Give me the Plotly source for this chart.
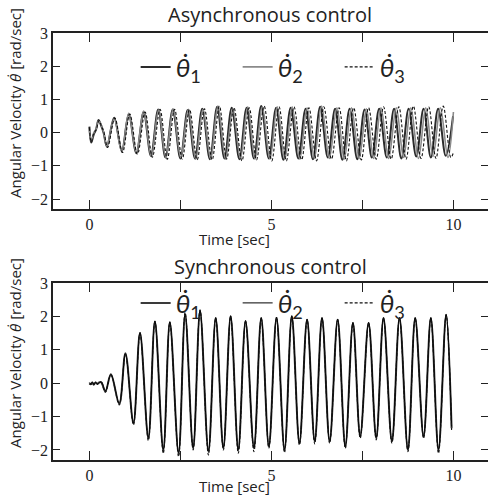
import plotly.graph_objects as go

# ---------------- data (extrema) ----------------
# Asynchronous control
async_t1 = [0.00, 0.05, 0.12, 0.18, 0.25, 0.32, 0.39, 0.48, 0.68, 0.89, 1.08, 1.29, 1.49, 1.69, 1.89,
            2.09, 2.29, 2.50, 2.70, 2.90, 3.10, 3.31, 3.51, 3.71, 3.91, 4.12, 4.32, 4.52, 4.72, 4.93,
            5.13, 5.33, 5.53, 5.74, 5.94, 6.14, 6.34, 6.55, 6.75, 6.95, 7.15, 7.36, 7.56, 7.76, 7.96,
            8.17, 8.37, 8.57, 8.77, 8.98, 9.18, 9.38, 9.58, 9.79, 9.99]
async_v1 = [0.18, -0.30, -0.05, 0.08, 0.38, 0.22, 0.00, -0.42, 0.45, -0.55, 0.55, -0.62, 0.62, -0.70, 0.70,
            -0.75, 0.70, -0.78, 0.68, -0.78, 0.72, -0.80, 0.78, -0.78, 0.75, -0.80, 0.75, -0.78, 0.80, -0.78,
            0.75, -0.82, 0.75, -0.78, 0.72, -0.80, 0.78, -0.75, 0.72, -0.82, 0.72, -0.80, 0.70, -0.75, 0.72,
            -0.75, 0.72, -0.78, 0.72, -0.72, 0.72, -0.75, 0.72, -0.70, 0.50]
async_t2 = [0.00, 0.05, 0.12, 0.18, 0.25, 0.32, 0.39, 0.48, 0.68, 0.89, 1.08, 1.29, 1.49, 1.70, 1.90,
            2.10, 2.30, 2.51, 2.72, 2.92, 3.12, 3.33, 3.53, 3.74, 3.94, 4.15, 4.35, 4.55, 4.75, 4.96,
            5.16, 5.37, 5.57, 5.78, 5.98, 6.18, 6.38, 6.59, 6.80, 7.00, 7.20, 7.41, 7.61, 7.81, 8.01,
            8.22, 8.43, 8.63, 8.83, 9.04, 9.24, 9.44, 9.64, 9.85, 10.00]
async_v2 = [0.10, -0.25, 0.00, 0.10, 0.35, 0.25, 0.02, -0.40, 0.42, -0.58, 0.58, -0.60, 0.65, -0.72, 0.68,
            -0.75, 0.72, -0.75, 0.70, -0.80, 0.70, -0.78, 0.80, -0.80, 0.72, -0.78, 0.78, -0.80, 0.78, -0.80,
            0.78, -0.80, 0.78, -0.80, 0.75, -0.78, 0.80, -0.78, 0.75, -0.80, 0.75, -0.78, 0.72, -0.78, 0.75,
            -0.78, 0.75, -0.75, 0.75, -0.78, 0.75, -0.72, 0.75, -0.75, 0.62]
async_t3 = [0.00, 0.05, 0.12, 0.19, 0.26, 0.33, 0.40, 0.50, 0.70, 0.91, 1.11, 1.32, 1.53, 1.73, 1.94,
            2.14, 2.34, 2.55, 2.75, 2.96, 3.16, 3.37, 3.57, 3.77, 3.97, 4.19, 4.39, 4.59, 4.80, 5.01,
            5.21, 5.41, 5.62, 5.83, 6.03, 6.24, 6.44, 6.65, 6.86, 7.06, 7.26, 7.47, 7.67, 7.88, 8.08,
            8.29, 8.50, 8.70, 8.90, 9.11, 9.32, 9.52, 9.72, 9.93, 10.00]
async_v3 = [0.15, -0.28, -0.02, 0.10, 0.36, 0.20, 0.00, -0.45, 0.44, -0.60, 0.56, -0.65, 0.62, -0.74, 0.70,
            -0.80, 0.70, -0.80, 0.70, -0.82, 0.72, -0.82, 0.80, -0.80, 0.75, -0.85, 0.75, -0.82, 0.80, -0.85,
            0.78, -0.85, 0.78, -0.82, 0.75, -0.85, 0.78, -0.80, 0.75, -0.85, 0.75, -0.82, 0.75, -0.80, 0.78,
            -0.80, 0.78, -0.80, 0.80, -0.78, 0.78, -0.78, 0.80, -0.75, -0.60]

# Synchronous control
sync_t = [0.00, 0.04, 0.08, 0.12, 0.17, 0.22, 0.28, 0.33, 0.44, 0.59, 0.82, 0.99, 1.21, 1.39, 1.62,
          1.80, 2.03, 2.21, 2.45, 2.63, 2.85, 3.04, 3.27, 3.47, 3.68, 3.88, 4.09, 4.29, 4.52, 4.72,
          4.93, 5.14, 5.36, 5.56, 5.77, 5.98, 6.19, 6.39, 6.60, 6.82, 7.03, 7.24, 7.44, 7.67, 7.88,
          8.08, 8.31, 8.52, 8.75, 8.95, 9.18, 9.38, 9.59, 9.80, 9.95]
sync_v1 = [0.00, -0.03, 0.02, -0.04, 0.02, -0.02, 0.03, 0.02, -0.25, 0.27, -0.62, 0.90, -1.20, 1.50, -1.65,
           1.85, -2.00, 1.82, -2.10, 2.05, -1.95, 2.15, -2.05, 1.95, -1.95, 2.00, -2.00, 1.85, -1.95, 1.95,
           -1.90, 1.95, -2.00, 2.00, -1.80, 1.90, -1.75, 1.95, -1.75, 1.90, -1.90, 1.80, -1.60, 1.80, -1.65,
           1.95, -1.75, 1.95, -2.00, 1.95, -1.60, 1.95, -2.00, 2.05, -1.35]
sync_v2 = [0.02, -0.02, 0.03, -0.02, 0.03, -0.03, 0.02, 0.04, -0.23, 0.26, -0.60, 0.88, -1.18, 1.52, -1.62,
           1.86, -1.98, 1.84, -2.08, 2.08, -1.92, 2.18, -2.02, 1.96, -1.92, 2.02, -1.98, 1.88, -1.92, 1.96,
           -1.88, 1.98, -1.98, 2.02, -1.78, 1.92, -1.72, 1.96, -1.72, 1.92, -1.88, 1.82, -1.58, 1.82, -1.62,
           1.96, -1.72, 1.96, -1.98, 1.96, -1.58, 1.96, -1.98, 2.06, -1.30]
sync_v3 = [-0.02, -0.04, 0.01, -0.05, 0.01, -0.03, 0.02, 0.01, -0.27, 0.25, -0.65, 0.88, -1.25, 1.48, -1.72,
           1.83, -2.10, 1.80, -2.20, 2.12, -2.00, 2.20, -2.15, 1.93, -2.00, 1.98, -2.10, 1.83, -2.05, 1.93,
           -1.95, 1.93, -2.08, 1.98, -1.85, 1.88, -1.82, 1.93, -1.80, 1.88, -1.95, 1.78, -1.65, 1.78, -1.70,
           1.93, -1.80, 1.93, -2.05, 1.93, -1.65, 1.93, -2.10, 2.03, -1.40]

titles = ["Asynchronous control", "Synchronous control"]
legend_names = ["<i>θ̇</i><sub>1</sub>", "<i>θ̇</i><sub>2</sub>", "<i>θ̇</i><sub>3</sub>"]
x_tickvals = [0, 2.5, 5, 7.5, 10]
x_ticktext = ["0", "", "5", "", "10"]
y_tickvals = [-2, -1, 0, 1, 2, 3]

# ---------------- figure ----------------
fig = go.Figure()

top_styles = [dict(color="#2b2b2b", width=2.0),
              dict(color="#8a8a8a", width=1.6),
              dict(color="#111111", width=1.1, dash="3px,2px")]
bot_styles = [dict(color="#3a3a3a", width=2.0),
              dict(color="#000000", width=1.0),
              dict(color="#111111", width=1.1, dash="3px,2px")]

top_data = [(async_t1, async_v1), (async_t2, async_v2), (async_t3, async_v3)]
bot_data = [(sync_t, sync_v1), (sync_t, sync_v2), (sync_t, sync_v3)]

for (t, v), st, name in zip(top_data, top_styles, legend_names):
    fig.add_trace(go.Scatter(x=t, y=v, mode="lines", name=name,
                             line=dict(shape="spline", smoothing=1.0, **st),
                             xaxis="x", yaxis="y", legend="legend"))
for (t, v), st, name in zip(bot_data, bot_styles, legend_names):
    fig.add_trace(go.Scatter(x=t, y=v, mode="lines", name=name,
                             line=dict(shape="spline", smoothing=1.0, **st),
                             xaxis="x2", yaxis="y2", legend="legend2"))

W, H = 488, 497
ml, mr, mt, mb = 53, 0, 33, 37
plot_h = H - mt - mb  # 427
top_dom = [(H - mb - 209) / plot_h, 1.0]
bot_dom = [0.0, (H - mb - 283) / plot_h]

serif = "Liberation Serif, Times New Roman, serif"
tick_font = dict(family=serif, size=16, color="#222")
axis_common = dict(showline=True, linecolor="#222", linewidth=1.5, mirror="allticks",
                   ticks="inside", tickcolor="#222", tickwidth=1.2, showgrid=False,
                   zeroline=False, tickfont=tick_font, automargin=False)

xax = dict(range=[-1, 10.95], tickvals=x_tickvals, ticktext=x_ticktext, ticklen=9, **axis_common)
yax = dict(range=[-2.3, 3], tickvals=y_tickvals, ticklen=7, **axis_common)

leg_font = dict(family="Lato", size=26, color="#222")
fig.update_layout(
    width=W, height=H,
    margin=dict(l=ml, r=mr, t=mt, b=mb, autoexpand=False),
    paper_bgcolor="white", plot_bgcolor="white",
    xaxis=dict(domain=[0, 1], anchor="y", **xax),
    yaxis=dict(domain=top_dom, anchor="x", **yax),
    xaxis2=dict(domain=[0, 1], anchor="y2", **xax),
    yaxis2=dict(domain=bot_dom, anchor="x2", **yax),
    legend=dict(orientation="h", x=0.19, y=(H - mb - 67) / plot_h, xanchor="left", yanchor="middle",
                bgcolor="rgba(0,0,0,0)", font=leg_font, entrywidth=57, entrywidthmode="pixels"),
    legend2=dict(orientation="h", x=0.19, y=(H - mb - 303) / plot_h, xanchor="left", yanchor="middle",
                 bgcolor="rgba(0,0,0,0)", font=leg_font, entrywidth=57, entrywidthmode="pixels"),
    showlegend=True,
)

sans = "Open Sans"
ann = []
# panel titles
for title, py in zip(titles, [15, 266]):
    ann.append(dict(text=title, x=(270 - ml) / (W - ml), y=(H - mb - py) / plot_h,
                    xref="paper", yref="paper", showarrow=False, xanchor="center", yanchor="middle",
                    font=dict(family=sans, size=20, color="#222")))
# x titles
for py in [239, 486]:
    ann.append(dict(text="Time [sec]", x=(234 - ml) / (W - ml), y=(H - mb - py) / plot_h,
                    xref="paper", yref="paper", showarrow=False, xanchor="center", yanchor="middle",
                    font=dict(family=sans, size=15, color="#222")))
# y titles
for py in [103, 353]:
    ann.append(dict(text="Angular Velocity <i>θ̇</i> [rad/sec]", x=(15 - ml) / (W - ml),
                    y=(H - mb - py) / plot_h, xref="paper", yref="paper", showarrow=False,
                    xanchor="center", yanchor="middle", textangle=-90,
                    font=dict(family=sans, size=15, color="#222")))
fig.update_layout(annotations=ann)

fig.write_html("out.html", post_script="document.body.style.margin='0';",
               config={"displayModeBar": False})
